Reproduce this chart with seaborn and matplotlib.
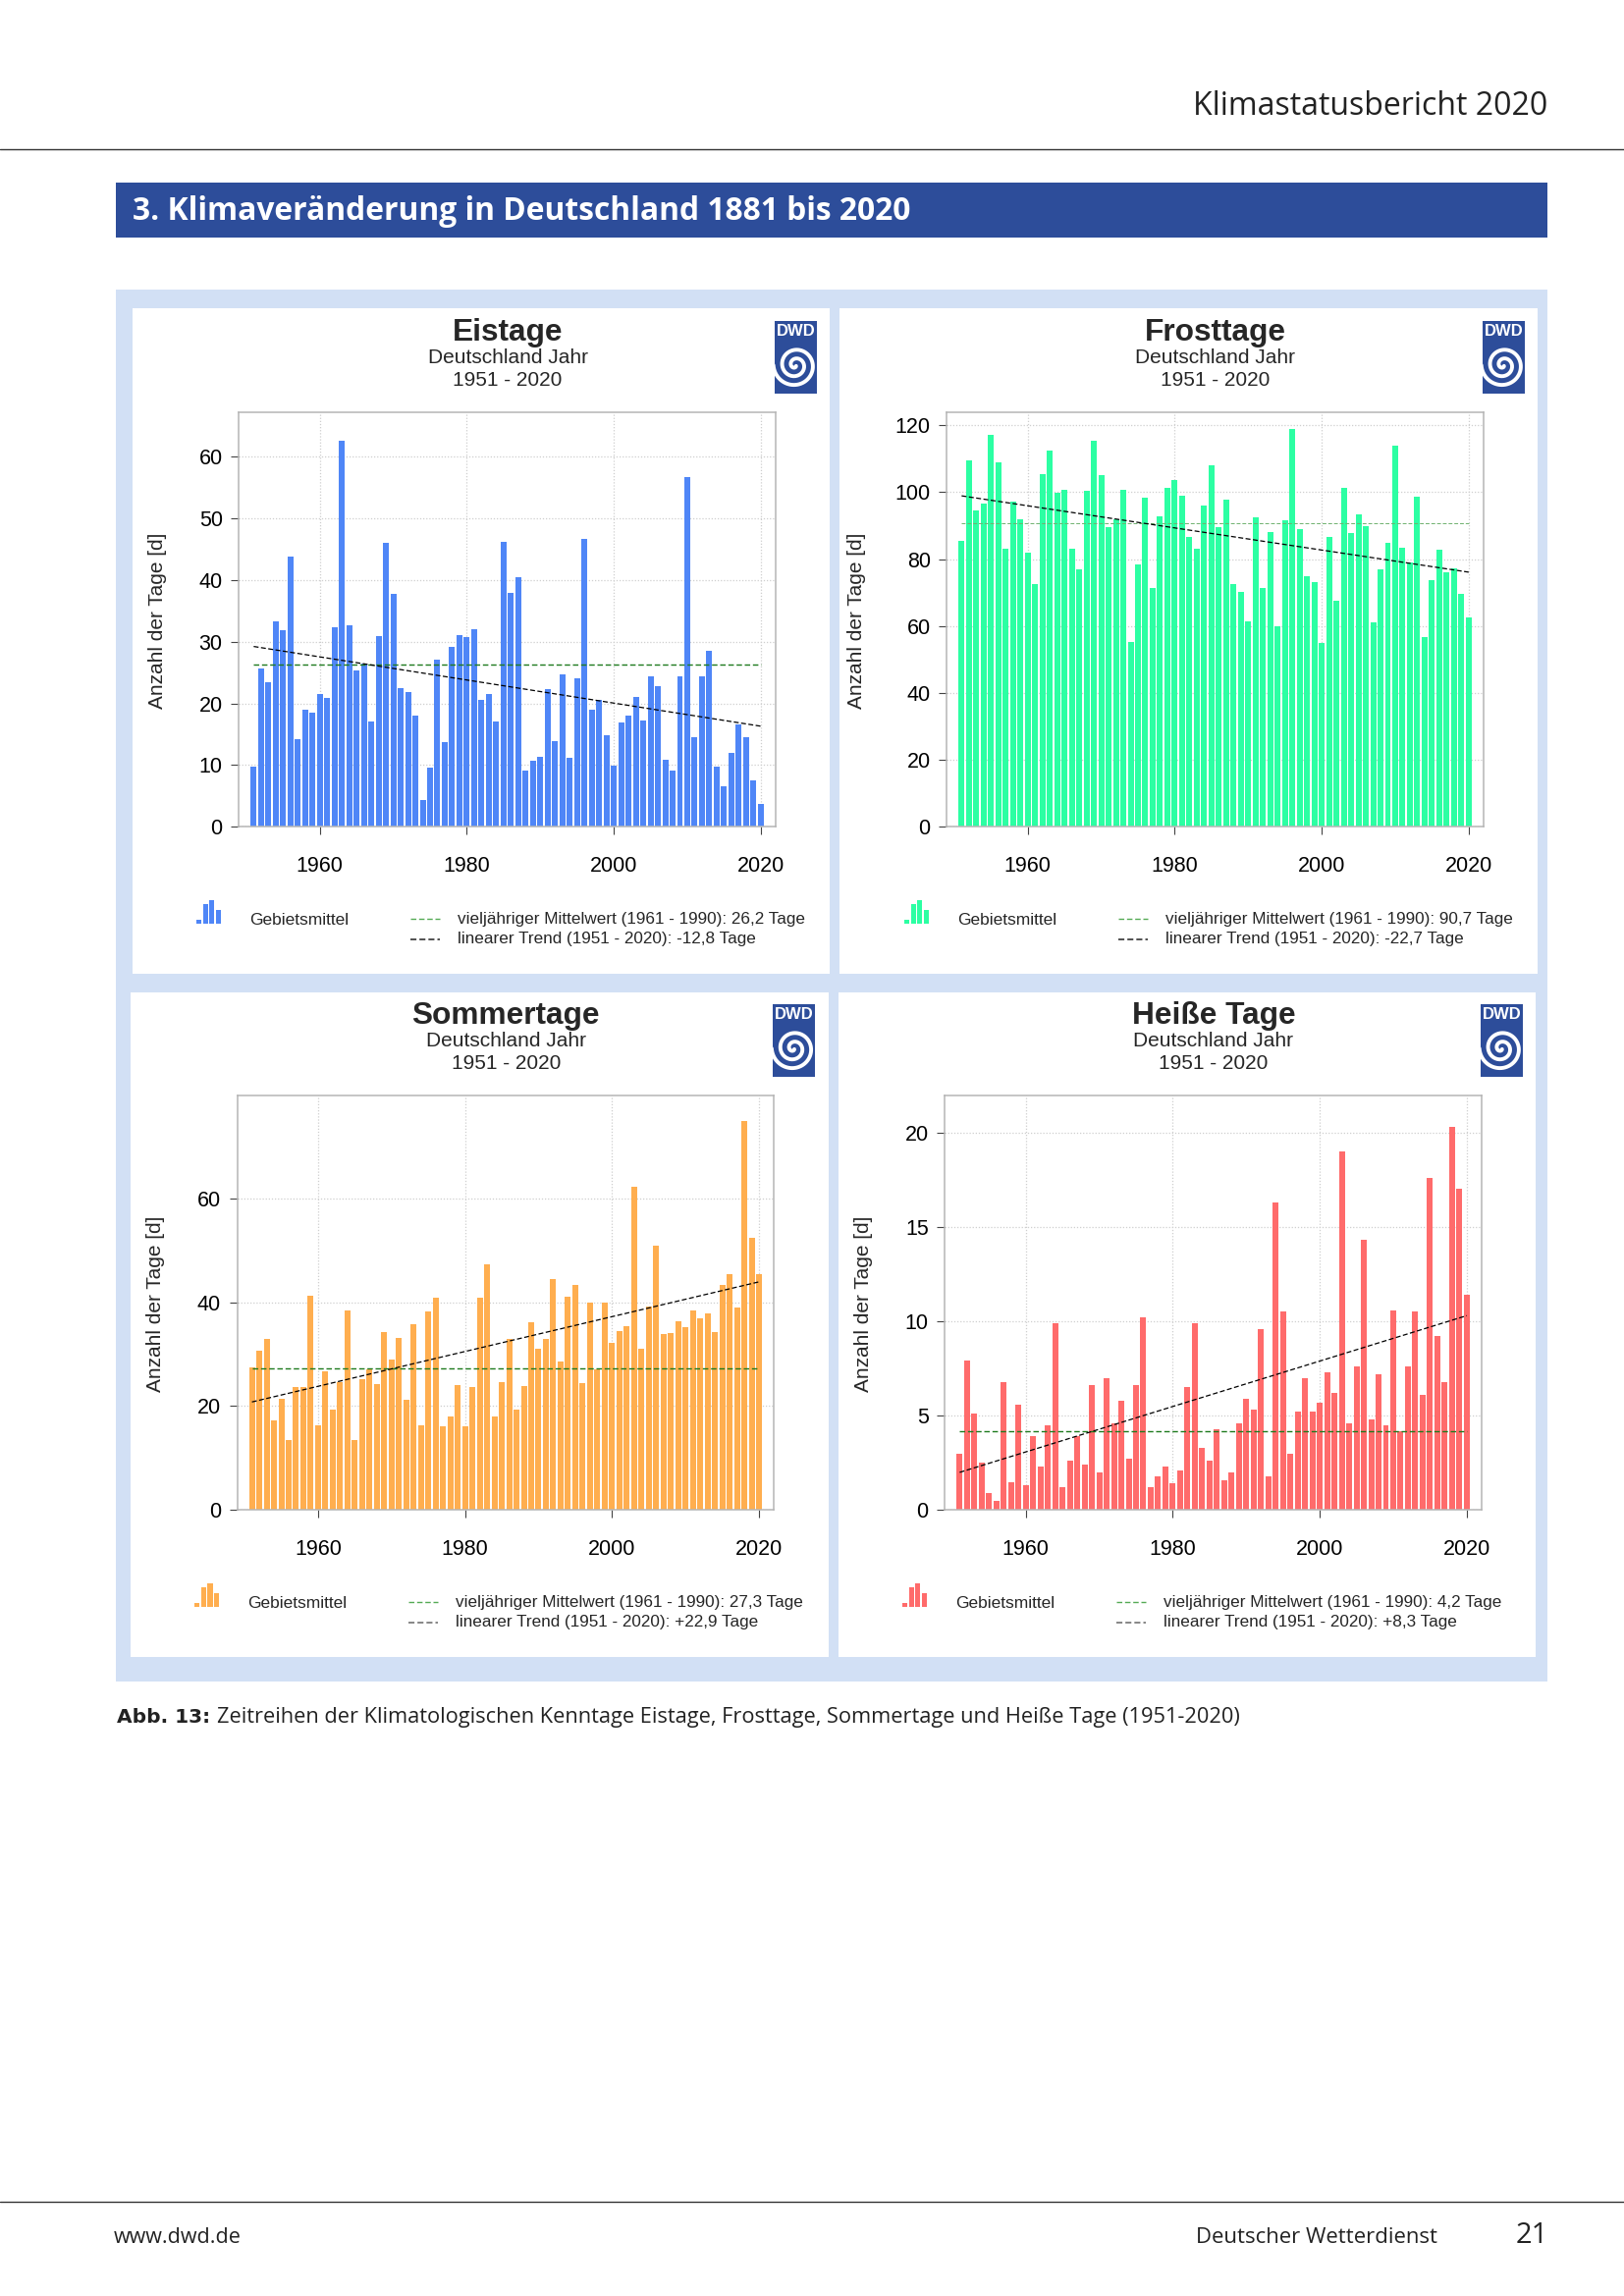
import numpy as np
import seaborn as sns
import matplotlib
matplotlib.use("Agg")
import matplotlib.pyplot as plt
from matplotlib.patches import Rectangle

# values, one per year 1951-2020
years = list(range(1951, 2021))

eistage = [9.7, 25.6, 23.4, 33.3, 31.8, 43.8, 14.2, 19.0, 18.5, 21.5,
           20.9, 32.3, 62.5, 32.6, 25.3, 26.4, 17.1, 30.9, 46.0, 37.7,
           22.5, 21.8, 18.0, 4.4, 9.6, 27.1, 13.7, 29.2, 31.0, 30.7,
           32.0, 20.6, 21.5, 17.1, 46.1, 37.9, 40.4, 9.1, 10.7, 11.3,
           22.3, 13.9, 24.7, 11.2, 24.1, 46.6, 19.0, 20.6, 14.8, 9.9,
           16.9, 18.0, 21.1, 17.2, 24.3, 22.8, 10.9, 9.1, 24.3, 56.6,
           14.5, 24.3, 28.5, 9.7, 6.6, 12.0, 16.6, 14.5, 7.5, 3.7]

frosttage = [85.5, 109.5, 94.5, 96.7, 117.2, 109.0, 83.1, 97.2, 91.9, 81.9,
             72.6, 105.5, 112.4, 99.8, 100.7, 83.1, 77.0, 100.4, 115.4, 105.2,
             89.6, 91.9, 100.7, 55.3, 78.5, 98.4, 71.4, 92.8, 101.3, 103.6,
             99.0, 86.7, 83.1, 96.1, 108.1, 89.6, 97.8, 72.6, 70.2, 61.4,
             92.5, 71.4, 88.1, 60.0, 91.6, 118.9, 89.0, 74.9, 73.1, 54.9,
             86.7, 67.6, 101.3, 87.8, 93.4, 89.9, 61.1, 77.0, 84.8, 113.9,
             83.4, 79.0, 98.7, 56.8, 73.7, 82.8, 76.1, 77.3, 69.6, 62.6]

sommertage = [27.4, 30.6, 32.9, 17.2, 21.4, 13.5, 23.7, 23.7, 41.2, 16.4,
              26.7, 19.3, 24.6, 38.4, 13.5, 25.2, 27.0, 24.3, 34.2, 28.9,
              33.1, 21.2, 35.8, 16.3, 38.2, 40.8, 16.1, 18.0, 24.1, 16.1,
              23.7, 40.8, 47.3, 18.0, 24.6, 32.9, 19.3, 23.9, 36.1, 31.0,
              32.9, 44.4, 28.5, 41.0, 43.3, 24.4, 39.9, 27.0, 39.9, 32.1,
              34.4, 35.4, 62.2, 31.0, 39.1, 50.8, 33.9, 34.1, 36.3, 35.2,
              38.4, 36.9, 37.8, 34.2, 43.3, 45.4, 38.9, 74.8, 52.3, 45.4]

heisse_tage = [3.0, 7.9, 5.1, 2.5, 0.9, 0.5, 6.8, 1.5, 5.6, 1.3,
               3.9, 2.3, 4.5, 9.9, 1.2, 2.6, 3.9, 2.4, 6.6, 2.0,
               7.0, 4.6, 5.8, 2.7, 6.6, 10.2, 1.2, 1.8, 2.3, 1.4,
               2.1, 6.5, 9.9, 3.3, 2.6, 4.3, 1.6, 2.0, 4.6, 5.9,
               5.3, 9.6, 1.8, 16.3, 10.5, 3.0, 5.2, 7.0, 5.2, 5.7,
               7.3, 6.2, 19.0, 4.6, 7.6, 14.3, 4.8, 7.2, 4.5, 10.6,
               4.2, 7.6, 10.5, 6.1, 17.6, 9.2, 6.8, 20.3, 17.0, 11.4]

titles = ["Eistage", "Frosttage", "Sommertage", "Heiße Tage"]
series = [eistage, frosttage, sommertage, heisse_tage]
colors = ["#4F86F7", "#2CFFA3", "#FFAE4F", "#FF6B6B"]
means = [26.2, 90.7, 27.3, 4.2]
trend_start = [29.2, 98.9, 20.8, 2.0]
trend_end = [16.3, 76.1, 43.9, 10.3]
y_tops = [67.07, 123.8, 79.7, 21.95]
y_ticks = [[0, 10, 20, 30, 40, 50, 60], [0, 20, 40, 60, 80, 100, 120], [0, 20, 40, 60], [0, 5, 10, 15, 20]]
mean_labels = ["26,2", "90,7", "27,3", "4,2"]
trend_labels = ["-12,8", "-22,7", "+22,9", "+8,3"]
x_ticks = [1960, 1980, 2000, 2020]
icon_heights = [4, 20, 24, 14]

W, H = 1654, 2339
HEADER_BLUE = "#2D4D9A"
PANEL_BLUE = "#D2E0F5"
ARIAL = "Liberation Sans"
BODY = "Open Sans"

sns.set_style("white")
plt.rcParams["font.family"] = ARIAL

fig = plt.figure(figsize=(W / 100, H / 100), dpi=100, facecolor="white")

# whole page axes in pixel coordinates for everything around the charts
page = fig.add_axes([0, 0, 1, 1])
page.set_xlim(0, W)
page.set_ylim(H, 0)
page.axis("off")


def box(x0, y0, x1, y1, color, **kw):
    page.add_patch(Rectangle((x0, y0), x1 - x0, y1 - y0, facecolor=color, edgecolor="none", **kw))


def draw_logo(x0, y0):
    patch = Rectangle((x0, y0), 43, 74, facecolor=HEADER_BLUE, edgecolor="none")
    page.add_patch(patch)
    page.text(x0 + 21.5, y0 + 11, "DWD", color="white", fontsize=12, fontweight="bold", ha="center", va="center")
    theta = np.linspace(0.8, 5.0 * np.pi, 160)
    r = 1.42 * theta
    spiral, = page.plot(x0 + 21 + r * np.cos(theta), y0 + 45 + r * np.sin(theta),
                        color="white", lw=2.8, solid_capstyle="round")
    spiral.set_clip_path(patch)


def draw_panel(i, ox, oy, white):
    box(*white, "white")

    # chart itself
    left, right, top, bottom = 243.4 + ox, 789.8 + ox, 420.2 + oy, 842.4 + oy
    ax = fig.add_axes([left / W, 1 - bottom / H, (right - left) / W, (bottom - top) / H])
    sns.barplot(x=years, y=series[i], native_scale=True, width=0.8, color=colors[i],
                saturation=1, linewidth=0, ax=ax, zorder=2)
    mean_color, mean_lw = ("#6FB26F", 0.7) if i == 1 else ("#1E7A1E", 1.0)
    ax.plot([years[0], years[-1]], [means[i], means[i]], color=mean_color, lw=mean_lw, ls=(0, (4, 2)), zorder=3)
    ax.plot([years[0], years[-1]], [trend_start[i], trend_end[i]], color="black", lw=0.9, ls=(0, (4, 2)), zorder=3)
    ax.set_xlim(1949.0, 2022.0)
    ax.set_ylim(0, y_tops[i])
    ax.set_xticks(x_ticks)
    ax.set_yticks(y_ticks[i])
    ax.set_xticklabels([str(t) for t in x_ticks])
    ax.grid(True, color="#CFCFCF", lw=0.9, ls=(0, (1, 1.5)), zorder=0)
    ax.set_axisbelow(True)
    ax.tick_params(axis="both", which="major", bottom=True, left=True, length=5.5, width=0.8,
                   color="#444444", labelsize=15.5, labelcolor="black")
    ax.tick_params(axis="x", pad=16)
    ax.tick_params(axis="y", pad=6.5)
    ax.set_xlabel("")
    for s in ax.spines.values():
        s.set_color("#B5B5B5")
        s.set_linewidth(1.1)

    # titles, logo and y label
    page.text(517 + ox, 339 + oy, titles[i], fontsize=22.8, fontweight="bold", ha="center", va="center")
    page.text(517 + ox, 364 + oy, "Deutschland Jahr", fontsize=15, ha="center", va="center")
    page.text(517 + ox, 387.5 + oy, "1951 - 2020", fontsize=15, ha="center", va="center")
    draw_logo(789 + ox, 327 + oy)
    label_x = [161, 872, 158.5, 879.5][i]
    page.text(label_x, 632 + oy, "Anzahl der Tage [d]", fontsize=15, rotation=90, ha="center", va="center")

    # legend row
    for k, h in enumerate(icon_heights):
        box(200 + ox + k * 6.6, 941 + oy - h, 205.2 + ox + k * 6.6, 941 + oy, colors[i], zorder=2)
    page.text(254 + ox, 937 + oy, "Gebietsmittel", fontsize=12.5, ha="left", va="center")
    page.plot([418 + ox, 448 + ox], [936 + oy, 936 + oy], color="#55AA55", lw=1, ls=(0, (4, 2)))
    page.plot([418 + ox, 448 + ox], [957 + oy, 957 + oy], color="#222222" if i < 2 else "#666666", lw=1.1, ls=(0, (4, 2)))
    page.text(466 + ox, 936 + oy, f"vieljähriger Mittelwert (1961 - 1990): {mean_labels[i]} Tage",
              fontsize=12.35, ha="left", va="center")
    page.text(466 + ox, 957 + oy, f"linearer Trend (1951 - 2020): {trend_labels[i]} Tage",
              fontsize=12.35, ha="left", va="center")


# page furniture
page.plot([0, W], [152, 152], color="#333333", lw=1)
page.text(1576, 117, "Klimastatusbericht 2020", fontsize=23, family=BODY, color="#222222", ha="right", va="baseline")
box(118, 186, 1576, 242, HEADER_BLUE)
page.text(135, 224, "3. Klimaveränderung in Deutschland 1881 bis 2020", fontsize=22.9, family=BODY,
          fontweight="bold", color="white", ha="left", va="baseline")
box(118, 295, 1576, 1713, PANEL_BLUE)

draw_panel(0, 0, 0, (135, 314, 845, 992))
draw_panel(1, 721, 0, (855, 314, 1566, 992))
draw_panel(2, -1.8, 696, (133, 1011, 844, 1688))
draw_panel(3, 719, 696, (854, 1011, 1564, 1688))

# caption and footer
page.text(119, 1755, "Abb. 13:", fontsize=14.5, family="DejaVu Sans", fontweight="bold", color="#222222", ha="left", va="baseline")
page.text(221, 1755, "Zeitreihen der Klimatologischen Kenntage Eistage, Frosttage, Sommertage und Heiße Tage (1951-2020)",
          fontsize=15.7, family=BODY, color="#222222", ha="left", va="baseline")
page.plot([0, W], [2243, 2243], color="#333333", lw=1)
page.text(116, 2285, "www.dwd.de", fontsize=15.5, family=BODY, color="#222222", ha="left", va="baseline")
page.text(1464, 2285, "Deutscher Wetterdienst", fontsize=15.9, family=BODY, color="#222222", ha="right", va="baseline")
page.text(1577, 2285, "21", fontsize=21, family=BODY, color="#222222", ha="right", va="baseline")

fig.savefig("out.png", dpi=100)
